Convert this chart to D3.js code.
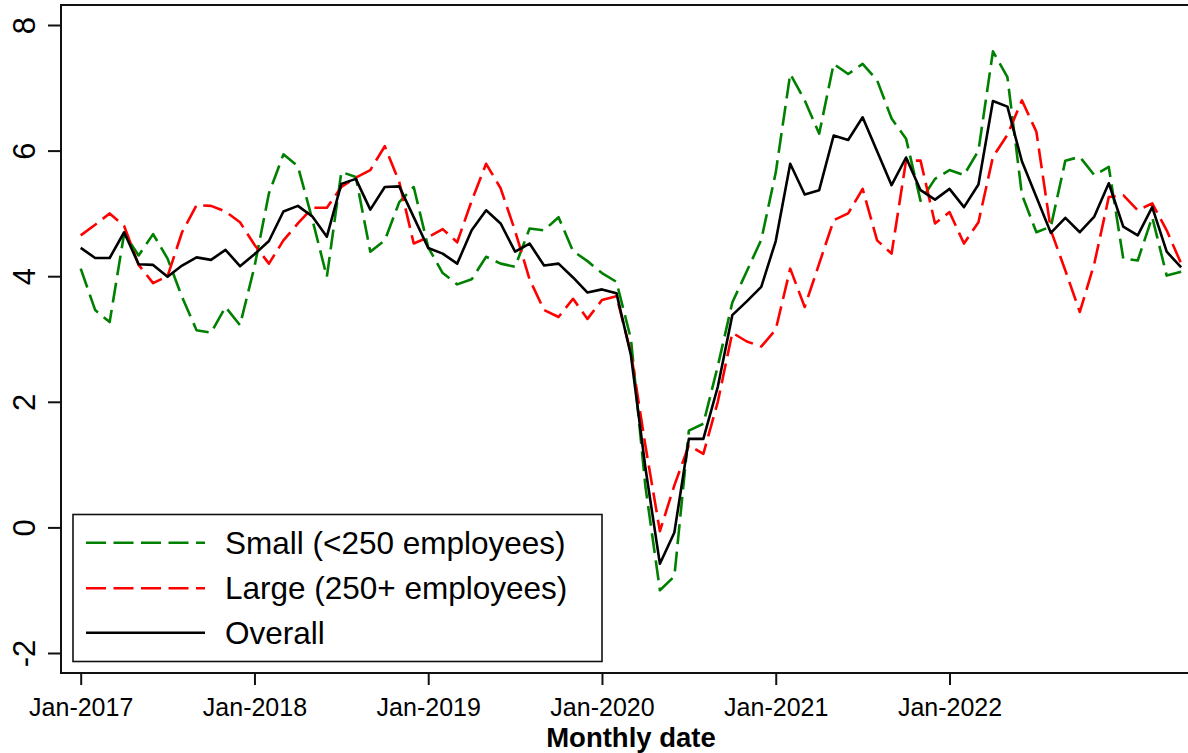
<!DOCTYPE html>
<html><head><meta charset="utf-8">
<script src="https://cdn.jsdelivr.net/npm/d3@7"></script>
<style>
body{margin:0;background:#fff;}
svg{display:block;}
text{font-family:"Liberation Sans",Arial,sans-serif;fill:#000;}
</style>
</head><body>
<svg id="chart" width="1188" height="753"></svg>
<script>
// Monthly dates: Jan-2017 .. May-2023 (77 months)
const months = d3.timeMonths(new Date(2017, 0, 1), new Date(2023, 5, 1));

const small = [4.12,3.46,3.27,4.68,4.33,4.67,4.28,3.67,3.14,3.10,3.51,3.22,
  4.15,5.32,5.94,5.75,4.90,3.99,5.66,5.58,4.39,4.57,5.18,5.42,
  4.46,4.05,3.87,3.95,4.31,4.20,4.15,4.76,4.73,4.94,4.40,4.24,
  4.05,3.91,3.00,0.65,-1.00,-0.78,1.54,1.65,2.57,3.58,4.08,4.58,
  5.65,7.22,6.80,6.27,7.38,7.22,7.38,7.12,6.51,6.19,5.20,5.55,
  5.69,5.61,6.00,7.58,7.17,5.30,4.70,4.79,5.84,5.90,5.61,5.74,
  4.28,4.25,4.94,4.01,4.07];

const large = [4.65,4.82,5.00,4.80,4.18,3.89,4.00,4.70,5.13,5.12,5.03,4.86,
  4.50,4.20,4.57,4.84,5.09,5.09,5.42,5.57,5.69,6.07,5.50,4.52,
  4.62,4.75,4.54,5.20,5.79,5.40,4.72,3.95,3.46,3.35,3.64,3.32,
  3.62,3.68,2.78,1.30,-0.06,0.67,1.31,1.17,2.00,3.10,2.96,2.88,
  3.15,4.12,3.51,4.20,4.89,5.00,5.39,4.57,4.36,5.84,5.84,4.84,
  5.02,4.52,4.86,5.90,6.25,6.80,6.30,4.73,4.09,3.43,4.20,5.26,
  5.29,5.05,5.16,4.73,4.20];

const overall = [4.45,4.29,4.29,4.70,4.19,4.18,3.99,4.17,4.30,4.26,4.42,4.16,
  4.35,4.56,5.03,5.12,4.95,4.63,5.47,5.55,5.06,5.42,5.43,4.94,
  4.45,4.36,4.20,4.73,5.05,4.84,4.39,4.52,4.17,4.20,3.98,3.74,
  3.79,3.73,2.74,0.95,-0.58,-0.08,1.41,1.41,2.24,3.38,3.60,3.83,
  4.56,5.79,5.30,5.37,6.24,6.17,6.53,5.99,5.45,5.89,5.37,5.22,
  5.39,5.10,5.46,6.79,6.70,5.83,5.26,4.69,4.93,4.70,4.95,5.48,
  4.79,4.65,5.10,4.39,4.14];

const xTickDates = ["2017-01","2018-01","2019-01","2020-01","2021-01","2022-01"];
const xTickLabels = ["Jan-2017","Jan-2018","Jan-2019","Jan-2020","Jan-2021","Jan-2022"];
const yTicks = [-2, 0, 2, 4, 6, 8];

const seriesNames = ["Small (<250 employees)", "Large (250+ employees)", "Overall"];
const seriesColors = ["#008000", "#ff0000", "#000000"];
const seriesDash = ["20,7.5", "20,7.5", null];
const seriesData = [small, large, overall];

const svg = d3.select("#chart");
const parse = d3.timeParse("%Y-%m");
const monthIndex = d => d3.timeMonth.count(months[0], d);

const x = d3.scaleLinear().domain([0, 60]).range([80.7, 949.5]);
const y = d3.scaleLinear().domain([-2, 8]).range([653, 25]);

// plot frame (right side cropped)
svg.append("rect").attr("x", 61).attr("y", 5).attr("width", 1200).attr("height", 668)
  .attr("fill", "none").attr("stroke", "#111").attr("stroke-width", 2);

// lines
const line = d3.line().x((d, i) => x(i)).y(d => y(d));
seriesData.forEach((s, k) => {
  svg.append("path").datum(s)
    .attr("d", line)
    .attr("fill", "none")
    .attr("stroke", seriesColors[k])
    .attr("stroke-width", 2.6)
    .attr("stroke-linejoin", "round")
    .attr("stroke-dasharray", seriesDash[k]);
});

// y axis
const yAxis = d3.axisLeft(y).tickValues(yTicks).tickSize(13).tickFormat(d => d);
const gy = svg.append("g").attr("transform", "translate(61,0)").call(yAxis);
gy.select(".domain").remove();
gy.selectAll(".tick line").attr("stroke", "#111").attr("stroke-width", 2);
gy.selectAll(".tick text").remove();
gy.selectAll(".tick").append("text")
  .attr("transform", "translate(-26,0) rotate(-90)")
  .attr("text-anchor", "middle")
  .style("font-size", "31px")
  .text(d => d);

// x axis
const xAxis = d3.axisBottom(x)
  .tickValues(xTickDates.map(s => monthIndex(parse(s))))
  .tickSize(12)
  .tickFormat((d, i) => xTickLabels[i]);
const gx = svg.append("g").attr("transform", "translate(0,673)").call(xAxis);
gx.select(".domain").remove();
gx.selectAll(".tick line").attr("stroke", "#111").attr("stroke-width", 2);
gx.selectAll(".tick text").attr("y", 43).attr("dy", 0)
  .style("font-size", "25px").attr("fill", "#000");

// x axis title
svg.append("text").attr("x", 631).attr("y", 747).attr("text-anchor", "middle")
  .style("font-size", "27.5px").style("font-weight", "bold").text("Monthly date");

// legend
const lg = svg.append("g");
lg.append("rect").attr("x", 73).attr("y", 514.5).attr("width", 529).attr("height", 147)
  .attr("fill", "#fff").attr("stroke", "#111").attr("stroke-width", 1.6);
const legY = [542.7, 588.3, 632.7];
seriesNames.forEach((n, k) => {
  lg.append("line").attr("x1", 86).attr("x2", 205).attr("y1", legY[k]).attr("y2", legY[k])
    .attr("stroke", seriesColors[k]).attr("stroke-width", 2.6)
    .attr("stroke-dasharray", seriesDash[k]);
  lg.append("text").attr("x", 225).attr("y", legY[k] + 11)
    .style("font-size", "31.5px").text(n);
});
</script>
</body></html>
